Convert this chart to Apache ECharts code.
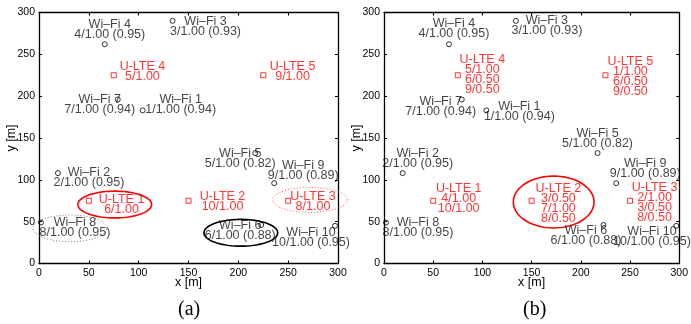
<!DOCTYPE html>
<html><head><meta charset="utf-8">
<script src="https://cdn.jsdelivr.net/npm/echarts@6/dist/echarts.min.js"></script>
<style>html,body{margin:0;padding:0;background:#fff}#c{width:691px;height:324px}</style>
</head><body><div id="c"></div>
<script>
// ---- data ----
const wifiNames = ['Wi–Fi 1','Wi–Fi 2','Wi–Fi 3','Wi–Fi 4','Wi–Fi 5','Wi–Fi 6','Wi–Fi 7','Wi–Fi 8','Wi–Fi 9','Wi–Fi 10'];
const wifiX = [104, 19, 134, 66, 217, 223, 79, 2, 236, 297];
const wifiY = [183, 108, 290, 262, 132, 46, 196, 49, 96, 45];
const wifiStatsA = ['1/1.00 (0.94)','2/1.00 (0.95)','3/1.00 (0.93)','4/1.00 (0.95)','5/1.00 (0.82)','6/1.00 (0.88)','7/1.00 (0.94)','8/1.00 (0.95)','9/1.00 (0.89)','10/1.00 (0.95)'];
const wifiStatsB = ['1/1.00 (0.94)','2/1.00 (0.95)','3/1.00 (0.93)','4/1.00 (0.95)','5/1.00 (0.82)','6/1.00 (0.88)','7/1.00 (0.94)','8/1.00 (0.95)','9/1.00 (0.89)','10/1.00 (0.95)'];
const lteNames = ['U-LTE 1','U-LTE 2','U-LTE 3','U-LTE 4','U-LTE 5'];
const lteX = [50, 150, 250, 75, 225];
const lteY = [75, 75, 75, 225, 225];
const lteAssignA = [['6/1.00'], ['10/1.00'], ['8/1.00'], ['5/1.00'], ['9/1.00']];
const lteAssignB = [['4/1.00','10/1.00'], ['3/0.50','7/1.00','8/0.50'], ['2/1.00','3/0.50','8/0.50'], ['5/1.00','6/0.50','9/0.50'], ['1/1.00','6/0.50','9/0.50']];
const axisTicks = [0, 50, 100, 150, 200, 250, 300];
// ellipses: [cx, cy, rx, ry] in metres
const ellipsesA = [[76, 70.5, 37, 16], [31, 42, 37, 16], [272, 76, 37.5, 15], [202.5, 36.7, 37, 16]];
const ellipsesB = [[172.4, 73.5, 41, 31]];

// ---- layout / styles ----
const FONT = 'Liberation Sans, Arial, sans-serif';
const LFS = 12.5;
const ellStyleA = [
  {color:'#ff0000', width:1.6, dash:null},
  {color:'#777777', width:1, dash:[1,2]},
  {color:'#ff5555', width:1, dash:[1,2]},
  {color:'#000000', width:1.6, dash:null}
];
const ellStyleB = [{color:'#ff0000', width:1.6, dash:null}];
const wifiOffA = [[38,-6],[31,4],[33,5.5],[5,-15],[-15,5],[-21,6],[-18,5],[34,5],[29,-13],[-24,12]];
const wifiOffB = [[33,1.3],[15,-15],[31,4.3],[5,-15.7],[0,-15],[-17.5,10.7],[-21,6.8],[32,5],[29,-14.4],[-24.3,10.7]];
const lteOffA = [[32.7,3.3],[34,1.2],[24.8,0.7],[28.7,-3.7],[29.3,-3.7]];
const lteOffB = [[25.5,-1.9],[26.8,3],[24.5,2],[24.5,-1],[25,1.7]];

const grids = [
  {left:39, top:12.5, width:299, height:251},
  {left:384, top:12.5, width:299, height:251}
];

function baseAxis(gi, pos, showLabel) {
  return {
    type:'value', gridIndex:gi, position:pos, min:axisTicks[0], max:axisTicks[axisTicks.length-1],
    interval:axisTicks[1]-axisTicks[0],
    axisLine:{show:true, onZero:false, lineStyle:{color:'#000', width:1.3}},
    axisTick:{show:true, inside:true, length:3, lineStyle:{color:'#000', width:1}},
    splitLine:{show:false},
    axisLabel:{show:showLabel, color:'#000', fontSize:10.5, fontFamily:FONT, margin:4}
  };
}
const xAxes = [], yAxes = [];
for (let gi = 0; gi < 2; gi++) {
  xAxes.push(Object.assign(baseAxis(gi,'bottom',true), {name:'x [m]', nameLocation:'middle', nameGap:12.5,
    nameMoveOverlap:false,
    nameTextStyle:{color:'#000', fontSize:12.5, fontFamily:FONT}}));
  xAxes.push(baseAxis(gi,'top',false));
  yAxes.push(Object.assign(baseAxis(gi,'left',true), {name:'y [m]', nameLocation:'middle', nameGap:20.5, nameRotate:90,
    nameMoveOverlap:false,
    nameTextStyle:{color:'#000', fontSize:12.5, fontFamily:FONT}}));
  yAxes.push(baseAxis(gi,'right',false));
}

function ellipseSeries(gi, list, styles) {
  return {
    type:'custom', xAxisIndex:gi*2, yAxisIndex:gi*2, clip:false, silent:true, z:1,
    data: list.map(e => e.slice()),
    encode:{x:0, y:1},
    renderItem: function (params, api) {
      const cx = api.value(0), cy = api.value(1), rx = api.value(2), ry = api.value(3);
      const pts = [];
      const N = 90;
      for (let k = 0; k < N; k++) {
        const t = k / N * Math.PI * 2;
        pts.push(api.coord([cx + rx * Math.cos(t), cy + ry * Math.sin(t)]));
      }
      const st = styles[params.dataIndex];
      return {type:'polygon', shape:{points:pts},
        style:{fill:'none', stroke:st.color, lineWidth:st.width, lineDash:st.dash}};
    }
  };
}

function wifiSeries(gi, stats, offs) {
  return {
    type:'scatter', xAxisIndex:gi*2, yAxisIndex:gi*2, symbol:'circle', symbolSize:5, silent:true, z:3,
    itemStyle:{color:'rgba(0,0,0,0)', borderColor:'#000', borderWidth:1},
    label:{show:true, position:'inside', color:'#111', fontSize:LFS, lineHeight:10, fontFamily:FONT, align:'center', verticalAlign:'middle'},
    data: wifiX.map((x, i) => ({value:[x, wifiY[i]],
      label:{formatter: wifiNames[i] + '\n' + stats[i], offset: offs[i]}}))
  };
}
function lteSeries(gi, assign, offs) {
  return {
    type:'scatter', xAxisIndex:gi*2, yAxisIndex:gi*2, symbol:'rect', symbolSize:5, silent:true, z:3,
    itemStyle:{color:'rgba(0,0,0,0)', borderColor:'#ff0000', borderWidth:1},
    label:{show:true, position:'inside', color:'#ff0000', fontSize:LFS, lineHeight:10, fontFamily:FONT, align:'center', verticalAlign:'middle'},
    data: lteX.map((x, i) => ({value:[x, lteY[i]],
      label:{formatter: [lteNames[i]].concat(assign[i]).join('\n'), offset: offs[i]}}))
  };
}

const chart = echarts.init(document.getElementById('c'), null, {renderer:'canvas'});
chart.setOption({
  animation:false,
  backgroundColor:'#fff',
  grid: grids,
  xAxis: xAxes,
  yAxis: yAxes,
  graphic: [
    {type:'text', left:178, top:300, style:{text:'(a)', fontSize:20, fontFamily:'Liberation Serif, Times New Roman, serif', fill:'#000'}},
    {type:'text', left:523, top:300, style:{text:'(b)', fontSize:20, fontFamily:'Liberation Serif, Times New Roman, serif', fill:'#000'}}
  ],
  series: [
    ellipseSeries(0, ellipsesA, ellStyleA),
    wifiSeries(0, wifiStatsA, wifiOffA),
    lteSeries(0, lteAssignA, lteOffA),
    ellipseSeries(1, ellipsesB, ellStyleB),
    wifiSeries(1, wifiStatsB, wifiOffB),
    lteSeries(1, lteAssignB, lteOffB)
  ]
});
</script></body></html>
